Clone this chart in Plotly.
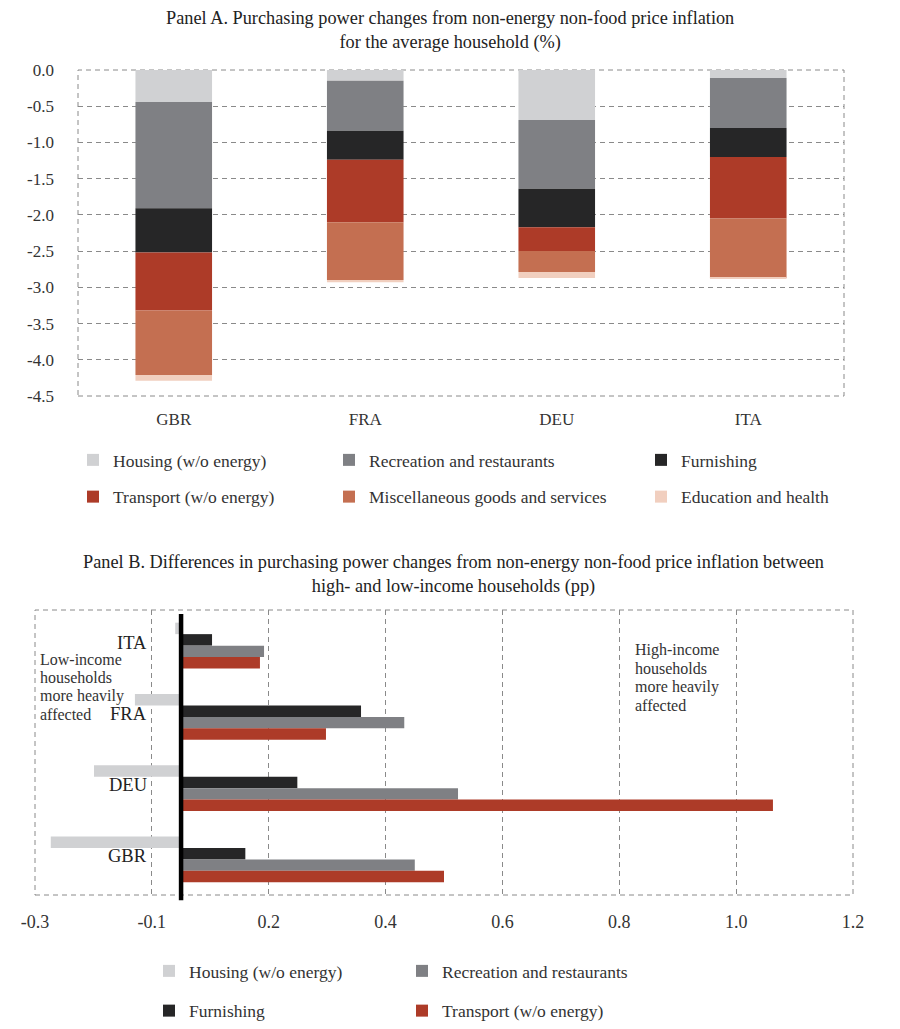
import numpy as np
import plotly.graph_objects as go

# ---------------- data ----------------
countries_a = ["GBR", "FRA", "DEU", "ITA"]
series_a = ["Housing (w/o energy)", "Recreation and restaurants", "Furnishing",
            "Transport (w/o energy)", "Miscellaneous goods and services", "Education and health"]
housing_a = [-0.44, -0.15, -0.69, -0.11]
recreation_a = [-1.47, -0.69, -0.95, -0.69]
furnishing_a = [-0.61, -0.40, -0.53, -0.40]
transport_a = [-0.80, -0.86, -0.33, -0.85]
misc_a = [-0.89, -0.80, -0.29, -0.82]
education_a = [-0.08, -0.03, -0.08, -0.01]
ytick_vals_a = [0.0, -0.5, -1.0, -1.5, -2.0, -2.5, -3.0, -3.5, -4.0, -4.5]
ytick_text_a = ["0.0", "-0.5", "-1.0", "-1.5", "-2.0", "-2.5", "-3.0", "-3.5", "-4.0", "-4.5"]

countries_b = ["ITA", "FRA", "DEU", "GBR"]
series_b = ["Housing (w/o energy)", "Furnishing", "Recreation and restaurants", "Transport (w/o energy)"]
housing_b = [-0.01, -0.079, -0.149, -0.223]
furnishing_b = [0.053, 0.308, 0.199, 0.110]
recreation_b = [0.142, 0.382, 0.474, 0.400]
transport_b = [0.135, 0.248, 1.013, 0.450]
xtick_vals_b = [-0.25, -0.05, 0.15, 0.35, 0.55, 0.75, 0.95, 1.15]
xtick_text_b = ["-0.3", "-0.1", "0.2", "0.4", "0.6", "0.8", "1.0", "1.2"]

low_note = ["Low-income", "households", "more heavily", "affected"]
high_note = ["High-income", "households", "more heavily", "affected"]

# ---------------- style ----------------
colors = {
    "Housing (w/o energy)": "#d0d1d3",
    "Recreation and restaurants": "#7f8084",
    "Furnishing": "#262627",
    "Transport (w/o energy)": "#ad3b28",
    "Miscellaneous goods and services": "#c46f51",
    "Education and health": "#f1cfbf",
}
FONT = "Liberation Serif"
GRID = "#8a8a8a"
DASH = "5px,4px"
OFF = 8                      # default page margin of the html body
W, H = 900 - 2 * OFF, 1029 - 2 * OFF

def px_x(p):
    return (p - OFF) / W

def px_y(p):
    return 1 - (p - OFF) / H

fig = go.Figure()

# ---------------- Panel A (stacked) ----------------
vals_a = np.array([housing_a, recreation_a, furnishing_a, transport_a, misc_a, education_a])
bases_a = np.vstack([np.zeros(len(countries_a)), np.cumsum(vals_a, axis=0)[:-1]])
legend_a = ["legend", "legend2", "legend3", "legend", "legend2", "legend3"]
for i, name in enumerate(series_a):
    fig.add_trace(go.Bar(
        x=countries_a, y=vals_a[i], base=bases_a[i], name=name,
        marker=dict(color=colors[name], line=dict(width=0)),
        width=0.4, xaxis="x", yaxis="y",
        legend=legend_a[i], legendgroup="a%d" % i,
    ))

# ---------------- Panel B (grouped horizontal) ----------------
vals_b = [housing_b, furnishing_b, recreation_b, transport_b]
legend_b = ["legend4", "legend4", "legend5", "legend5"]
group_w = 0.645
bw = group_w / len(series_b)
for i, name in enumerate(series_b):
    fig.add_trace(go.Bar(
        y=countries_b, x=vals_b[i], orientation="h", name=name,
        marker=dict(color=colors[name], line=dict(width=0)),
        width=bw, offset=-group_w / 2 + i * bw,
        xaxis="x2", yaxis="y2",
        legend=legend_b[i], legendgroup="b%d" % i,
    ))

tick_font = dict(family=FONT, size=17, color="#333333")

fig.update_layout(
    width=W, height=H,
    margin=dict(l=0, r=0, t=0, b=0, autoexpand=False),
    paper_bgcolor="white", plot_bgcolor="white",
    barmode="overlay",
    font=dict(family=FONT, size=17, color="#333333"),
    xaxis=dict(domain=[px_x(78), px_x(844)], anchor="y", showgrid=False, zeroline=False,
               showline=False, ticks="", tickfont=tick_font, ticklabelstandoff=11,
               range=[-0.5, 3.5], automargin=False),
    yaxis=dict(domain=[px_y(396), px_y(70)], anchor="x", range=[-4.5, 0],
               tickvals=ytick_vals_a, ticktext=ytick_text_a,
               showgrid=True, gridcolor=GRID, griddash=DASH, gridwidth=1,
               zeroline=False, showline=False, ticks="", tickfont=tick_font,
               ticklabelstandoff=23, automargin=False),
    xaxis2=dict(domain=[px_x(35), px_x(853)], anchor="y2", range=[-0.25, 1.15],
                tickvals=xtick_vals_b, ticktext=xtick_text_b,
                showgrid=True, gridcolor=GRID, griddash=DASH, gridwidth=1,
                zeroline=False, showline=False, ticks="",
                tickfont=dict(family=FONT, size=18, color="#333333"),
                ticklabelstandoff=14, automargin=False),
    yaxis2=dict(domain=[px_y(895), px_y(610)], anchor="x2", type="category",
                categoryorder="array", categoryarray=countries_b, autorange="reversed",
                showgrid=False, zeroline=False, showline=False, showticklabels=False,
                ticks="", automargin=False),
    showlegend=True,
)

leg_common = dict(orientation="v", xanchor="left", yanchor="top", bgcolor="rgba(0,0,0,0)",
                  font=dict(family=FONT, size=17.5, color="#333333"), traceorder="grouped",
                  itemclick=False, itemdoubleclick=False)
fig.update_layout(
    legend=dict(x=px_x(94 - 21), y=px_y(461 - 19), tracegroupgap=11, **leg_common),
    legend2=dict(x=px_x(350 - 21), y=px_y(461 - 19), tracegroupgap=11, **leg_common),
    legend3=dict(x=px_x(662 - 21), y=px_y(461 - 19), tracegroupgap=11, **leg_common),
    legend4=dict(x=px_x(170 - 21), y=px_y(972 - 19), tracegroupgap=14, **leg_common),
    legend5=dict(x=px_x(423 - 21), y=px_y(972 - 19), tracegroupgap=14, **leg_common),
)

# borders
border = dict(color=GRID, width=1, dash=DASH)
fig.add_shape(type="rect", xref="x domain", yref="y domain", x0=0, x1=1, y0=0, y1=1,
              line=border, layer="below")
fig.add_shape(type="rect", xref="x2 domain", yref="y2 domain", x0=0, x1=1, y0=0, y1=1,
              line=border, layer="below")
# zero line panel B
fig.add_shape(type="line", xref="x2", yref="y2 domain", x0=0, x1=0, y0=-0.018, y1=0.986,
              line=dict(color="black", width=4.5), layer="above")

# titles
fig.add_annotation(text="Panel A. Purchasing power changes from non-energy non-food price inflation<br>for the average household (%)",
                   xref="paper", yref="paper", x=px_x(450), y=px_y(30.5), xanchor="center", yanchor="middle",
                   showarrow=False, font=dict(family=FONT, size=18.3, color="#222222"))
fig.add_annotation(text="Panel B. Differences in purchasing power changes from non-energy non-food price inflation between<br>high- and low-income households (pp)",
                   xref="paper", yref="paper", x=px_x(453), y=px_y(574), xanchor="center", yanchor="middle",
                   showarrow=False, font=dict(family=FONT, size=18.3, color="#222222"))

# category labels panel B
for c in countries_b:
    fig.add_annotation(text=c, xref="x2", yref="y2", x=-0.055, y=c, xanchor="right",
                       yanchor="middle", yshift=3, showarrow=False,
                       font=dict(family=FONT, size=18.5, color="#222222"))

# notes (one annotation per line for the tight leading of the reference)
for k, line in enumerate(low_note):
    fig.add_annotation(text=line, xref="paper", yref="paper",
                       x=px_x(38), y=px_y(659 + k * 18.4), xanchor="left", yanchor="middle",
                       showarrow=False, font=dict(family=FONT, size=16, color="#333333"))
for k, line in enumerate(high_note):
    fig.add_annotation(text=line, xref="paper", yref="paper",
                       x=px_x(633), y=px_y(650 + k * 18.6), xanchor="left", yanchor="middle",
                       showarrow=False, font=dict(family=FONT, size=16, color="#333333"))

fig.write_html("out.html")
